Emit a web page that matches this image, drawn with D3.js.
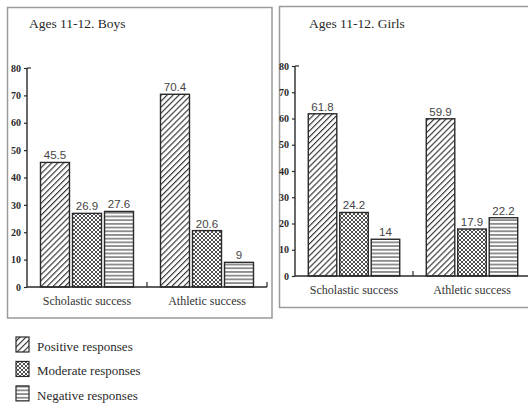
<!DOCTYPE html>
<html>
<head>
<meta charset="utf-8">
<script src="https://cdn.jsdelivr.net/npm/d3@7"></script>
<style>
  html, body { margin: 0; padding: 0; background: #fff; }
  svg { display: block; }
</style>
</head>
<body>
<svg id="chart" width="528" height="409"></svg>
<script>
// ---- data ----
const categories = ["Scholastic success", "Athletic success"];
const seriesNames = ["Positive responses", "Moderate responses", "Negative responses"];
const boysPositive = [45.5, 70.4];
const boysModerate = [26.9, 20.6];
const boysNegative = [27.6, 9];
const girlsPositive = [61.8, 59.9];
const girlsModerate = [24.2, 17.9];
const girlsNegative = [14, 22.2];
const yTicks = [0, 10, 20, 30, 40, 50, 60, 70, 80];
const titles = ["Ages 11-12. Boys", "Ages 11-12. Girls"];

const svg = d3.select("#chart");
const SERIF = "'Liberation Serif', 'Times New Roman', serif";
const SANS = "'Liberation Sans', Arial, sans-serif";
const INK = "#2a2a2a";

// ---- patterns ----
const defs = svg.append("defs");
const pDiag = defs.append("pattern").attr("id", "pat0")
  .attr("patternUnits", "userSpaceOnUse").attr("width", 4.2).attr("height", 4.2)
  .attr("patternTransform", "rotate(45)");
pDiag.append("rect").attr("width", 4.2).attr("height", 4.2).attr("fill", "#fff");
pDiag.append("line").attr("x1", 0.6).attr("y1", 0).attr("x2", 0.6).attr("y2", 4.2)
  .attr("stroke", INK).attr("stroke-width", 1.1);

const s = 4;
const pCross = defs.append("pattern").attr("id", "pat1")
  .attr("patternUnits", "userSpaceOnUse").attr("width", s).attr("height", s);
pCross.append("rect").attr("width", s).attr("height", s).attr("fill", "#fff");
pCross.append("path").attr("d", `M0,0L${s},${s}M${s},0L0,${s}`)
  .attr("stroke", "#333").attr("stroke-width", 0.85).attr("fill", "none");

const pHor = defs.append("pattern").attr("id", "pat2")
  .attr("patternUnits", "userSpaceOnUse").attr("width", 6).attr("height", 3.7);
pHor.append("rect").attr("width", 6).attr("height", 3.7).attr("fill", "#fff");
pHor.append("line").attr("x1", 0).attr("y1", 1.85).attr("x2", 6).attr("y2", 1.85)
  .attr("stroke", INK).attr("stroke-width", 1);

// ---- panel frames ----
svg.append("rect").attr("x", 7.5).attr("y", 7.5).attr("width", 264.5).attr("height", 310.5)
  .attr("fill", "none").attr("stroke", "#9a9a9a").attr("stroke-width", 1.5);
svg.append("path").attr("d", "M540,6.5H279.5V307.5H540")
  .attr("fill", "none").attr("stroke", "#9a9a9a").attr("stroke-width", 1.5);

const panels = [
  { title: titles[0], series: [boysPositive, boysModerate, boysNegative],
    x0: 27, x1: 267, yTop: 68, yBase: 287, titleX: 29, titleY: 28 },
  { title: titles[1], series: [girlsPositive, girlsModerate, girlsNegative],
    x0: 295, x1: 531, yTop: 66, yBase: 276, titleX: 309, titleY: 28 }
];

panels.forEach(p => {
  const g = svg.append("g");
  const x = d3.scaleBand().domain(categories).range([p.x0, p.x1])
    .paddingInner(0.225).paddingOuter(0.1125);
  const xi = d3.scaleBand().domain(seriesNames).range([0, x.bandwidth()])
    .paddingInner(0.094).paddingOuter(0);
  const y = d3.scaleLinear().domain([0, 80]).range([p.yBase, p.yTop]);

  // title
  g.append("text").attr("x", p.titleX).attr("y", p.titleY)
    .attr("font-family", SERIF).attr("font-size", 13.5).attr("fill", INK)
    .text(p.title);

  // bars
  const rows = [];
  categories.forEach((c, ci) => {
    seriesNames.forEach((sn, si) => rows.push({ c, sn, si, v: p.series[si][ci] }));
  });
  g.selectAll("rect.bar").data(rows).join("rect").attr("class", "bar")
    .attr("x", d => x(d.c) + xi(d.sn))
    .attr("y", d => y(d.v))
    .attr("width", xi.bandwidth())
    .attr("height", d => y(0) - y(d.v))
    .attr("fill", d => `url(#pat${d.si})`)
    .attr("stroke", INK).attr("stroke-width", 1.4);

  g.selectAll("text.val").data(rows).join("text").attr("class", "val")
    .attr("x", d => x(d.c) + xi(d.sn) + xi.bandwidth() / 2)
    .attr("y", d => y(d.v) - 3)
    .attr("text-anchor", "middle")
    .attr("font-family", SANS).attr("font-size", 11.5).attr("fill", "#444")
    .text(d => String(d.v));

  // y axis
  const yAxis = d3.axisLeft(y).tickValues(yTicks).tickSize(3).tickPadding(3)
    .tickFormat(d3.format("d"));
  const ya = g.append("g").attr("transform", `translate(${p.x0},0)`).call(yAxis);
  ya.select(".domain").attr("d", `M0,${p.yTop}V${p.yBase}`)
    .attr("stroke", INK).attr("stroke-width", 1.4);
  ya.selectAll(".tick line").attr("stroke", INK).attr("stroke-width", 1.2);
  ya.selectAll(".tick text").attr("font-family", SERIF).attr("font-weight", "bold")
    .attr("font-size", 10).attr("fill", INK);
  ya.append("line").attr("x1", 0).attr("x2", 4).attr("y1", p.yTop).attr("y2", p.yTop)
    .attr("stroke", INK).attr("stroke-width", 1.2);

  // x axis
  const xAxis = d3.axisBottom(x).tickSize(0).tickPadding(9);
  const xa = g.append("g").attr("transform", `translate(0,${p.yBase})`).call(xAxis);
  xa.select(".domain").attr("d", `M${p.x0},0H${p.x1}`)
    .attr("stroke", INK).attr("stroke-width", 1.4);
  xa.selectAll(".tick text").attr("font-family", SERIF).attr("font-size", 12)
    .attr("fill", "#333").attr("dy", "0.71em");
  // separators between / after groups
  const seps = [p.x0 + x.step(), p.x0 + 2 * x.step()];
  xa.selectAll("line.sep").data(seps).join("line").attr("class", "sep")
    .attr("x1", d => d).attr("x2", d => d).attr("y1", 0).attr("y2", -5)
    .attr("stroke", INK).attr("stroke-width", 1.2);
});

// ---- legend ----
const legend = svg.append("g");
const ly = d3.scaleBand().domain(seriesNames).range([337, 403]).paddingInner(0.3).paddingOuter(0);
seriesNames.forEach((sn, i) => {
  legend.append("rect").attr("x", 16).attr("y", ly(sn)).attr("width", 13).attr("height", 15)
    .attr("fill", `url(#pat${i})`).attr("stroke", INK).attr("stroke-width", 1.2);
  legend.append("text").attr("x", 37).attr("y", ly(sn) + 14)
    .attr("font-family", SERIF).attr("font-size", 13).attr("fill", INK)
    .text(sn);
});
</script>
</body>
</html>
